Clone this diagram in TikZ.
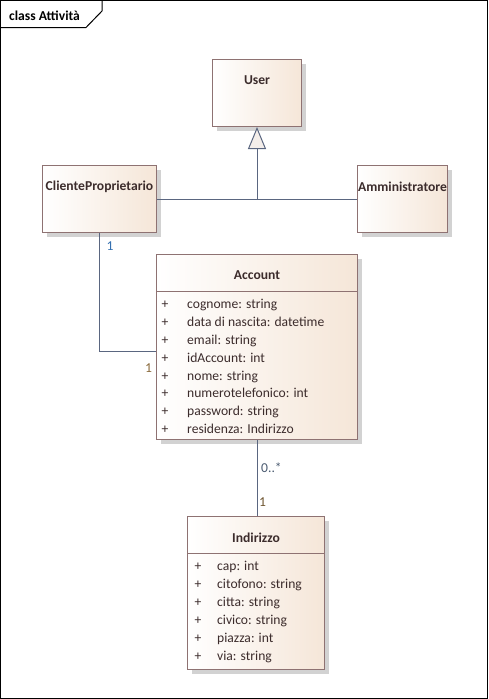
\documentclass[tikz,border=0pt]{standalone}
\usepackage{fontspec}
\setmainfont{Carlito}
\usetikzlibrary{arrows.meta,shadows}

\definecolor{boxfill}{HTML}{F5E6D8}
\definecolor{boxdraw}{HTML}{8E7272}
\definecolor{linecol}{HTML}{5A6680}
\definecolor{txtcol}{HTML}{3C2C2C}
\definecolor{shadowcol}{HTML}{D2D2D2}
\definecolor{bluelab}{HTML}{3470B0}
\definecolor{brownlab}{HTML}{8A6A3C}
\definecolor{greylab}{HTML}{4A5A70}
\definecolor{trifill}{HTML}{F4EEEA}

\begin{document}
\begin{tikzpicture}[x=1pt, y=-1pt, font=\fontsize{13.6}{16}\selectfont]
    \tikzstyle{classbox} = [shape=rectangle, anchor=north west, draw=boxdraw, line width=1pt, inner sep=0pt,
        left color=white, right color=boxfill,
        drop shadow={shadow xshift=4pt, shadow yshift=-4pt, fill=shadowcol, opacity=1}]
    \tikzstyle{ctitle} = [text=txtcol, font=\fontsize{13.6}{16}\selectfont\bfseries, inner sep=0pt]
    \tikzstyle{attr} = [anchor=west, text=txtcol, inner sep=0pt, text height=10pt, text depth=3.4pt]
    \tikzstyle{link} = [draw=linecol, line width=1pt]
    \useasboundingbox (0,0) rectangle (488,699);

    % cornice del diagramma
    \draw[black, line width=1pt] (0.5,0.5) rectangle (487.5,698.5);
    \draw[black, line width=1pt] (0.5,27.5) -- (86,27.5) -- (102,11) -- (102,0.5);
    \node (frametitle) [anchor=west, inner sep=0pt, font=\fontsize{13.6}{16}\selectfont\bfseries] at (9,15.5) {class Attività};

    % classi
    \node (user)  [classbox, minimum width=89pt,  minimum height=67pt]  at (212,59)  {};
    \node (cliente) [classbox, minimum width=114pt, minimum height=67pt] at (42,165) {};
    \node (amm)   [classbox, minimum width=90pt,  minimum height=67pt]  at (357,165) {};
    \node (account) [classbox, minimum width=201pt, minimum height=185pt] at (156,254) {};
    \node (indirizzo) [classbox, minimum width=137pt, minimum height=153pt] at (187,516) {};

    \node (usertitle) [ctitle] at ([yshift=-21.5pt]user.north) {User};
    \node (clientetitle) [ctitle] at ([yshift=-22pt]cliente.north) {ClienteProprietario};
    \node (ammtitle) [ctitle] at ([yshift=-22pt]amm.north) {Amministratore};
    \node (accounttitle) [ctitle] at ([yshift=-21.5pt]account.north) {Account};
    \node (indirizzotitle) [ctitle] at ([yshift=-22pt]indirizzo.north) {Indirizzo};

    \draw[boxdraw, line width=1pt] (account.west |- 0,291.5) -- (account.east |- 0,291.5);
    \draw[boxdraw, line width=1pt] (indirizzo.west |- 0,553.5) -- (indirizzo.east |- 0,553.5);

    % attributi
    \foreach \a [count=\i] in {cognome: string, data di nascita: datetime, email: string, idAccount: int,
        nome: string, numerotelefonico: int, password: string, residenza: Indirizzo} {
        \node (accplus\i) [attr, anchor=center] at (165,{287.8+17.8*\i}) {+};
        \node (accattr\i) [attr] at (187,{287.8+17.8*\i}) {\a};
    }
    \foreach \a [count=\i] in {cap: int, citofono: string, citta: string, civico: string,
        piazza: int, via: string} {
        \node (indplus\i) [attr, anchor=center] at (198,{549.5+18*\i}) {+};
        \node (indattr\i) [attr] at (217,{549.5+18*\i}) {\a};
    }

    % generalizzazione
    \coordinate (gen) at (user.south |- cliente.east);
    \draw [link] (cliente.east) -- (amm.west);
    \draw [link, -{Triangle[length=22pt, width=18pt, fill=trifill]}] (gen) -- (user.south);

    % associazioni
    \coordinate (accin) at ([yshift=-4pt]account.west);
    \draw [link] (cliente.south) |- (accin);
    \draw [link] (account.south) -- (account.south |- indirizzo.north);

    \node (mult1) [text=bluelab, inner sep=0pt] at (110,246) {1};
    \node (mult2) [text=brownlab, inner sep=0pt] at (148.5,368) {1};
    \node (mult3) [text=greylab, inner sep=0pt] at (271.5,468) {0..*};
    \node (mult4) [text=brownlab!80!black, inner sep=0pt] at (262.5,502) {1};
\end{tikzpicture}
\end{document}
